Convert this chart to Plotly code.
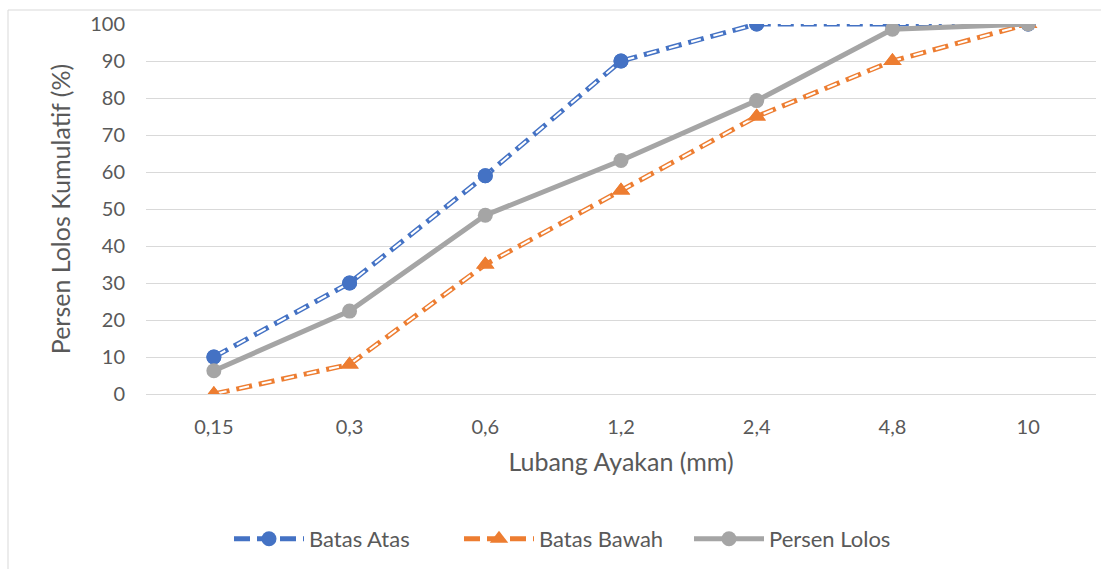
import plotly.graph_objects as go

# Sieve sizes (mm) and cumulative passing percentages
sieve_labels = ["0,15", "0,3", "0,6", "1,2", "2,4", "4,8", "10"]
batas_atas = [10, 30, 59, 90, 100, 100, 100]
batas_bawah = [0, 8, 35, 55, 75, 90, 100]
persen_lolos = [6.3, 22.4, 48.3, 63.1, 79.3, 98.6, 100]

TEXT = "#595959"
GRID = "#d9d9d9"
FONT = "Lato"

W, H = 1101, 569
ML, MR, MT, MB = 146, 5, 24, 175
plot_w = W - ML - MR
plot_h = H - MT - MB

fig = go.Figure()


def double_dashed(name, y, color, symbol, msize):
    # coloured dashed stroke with a thin white core, giving an outlined dash
    fig.add_trace(go.Scatter(
        x=sieve_labels, y=y, name=name, mode="lines+markers",
        line=dict(color=color, width=5, dash="16px,7px"),
        marker=dict(color=color, size=msize, symbol=symbol, line=dict(width=0)),
        legendgroup=name, showlegend=True,
    ))
    fig.add_trace(go.Scatter(
        x=sieve_labels, y=y, name=name, mode="lines+markers",
        line=dict(color="white", width=2.1, dash="0px,3px,10px,10px"),
        marker=dict(color=color, size=msize, symbol=symbol, line=dict(width=0)),
        legendgroup=name, showlegend=False, hoverinfo="skip",
    ))


double_dashed("Batas Atas", batas_atas, "#4472C4", "circle", 15)
double_dashed("Batas Bawah", batas_bawah, "#ED7D31", "triangle-up", 16)

fig.add_trace(go.Scatter(
    x=sieve_labels, y=persen_lolos, name="Persen Lolos", mode="lines+markers",
    line=dict(color="#A5A5A5", width=5),
    marker=dict(color="#A5A5A5", size=15, symbol="circle"),
))


def px_x(p):
    return (p - ML) / plot_w


def px_y(p):
    return (H - MB - p) / plot_h


# light outer frame of the chart area
fig.add_shape(type="rect", xref="paper", yref="paper",
              x0=px_x(8), x1=px_x(W + 20), y0=px_y(10), y1=px_y(H + 20),
              line=dict(color=GRID, width=1), fillcolor="rgba(0,0,0,0)",
              layer="below")

fig.update_layout(
    width=W, height=H,
    margin=dict(l=ML, r=MR, t=MT, b=MB, autoexpand=False),
    paper_bgcolor="white", plot_bgcolor="white",
    font=dict(family=FONT, size=20, color=TEXT),
    showlegend=True,
    legend=dict(
        orientation="h", xanchor="center", yanchor="middle",
        x=px_x(574), y=px_y(539),
        font=dict(family=FONT, size=22, color=TEXT),
        itemwidth=70, tracegroupgap=0,
        entrywidth=145, entrywidthmode="pixels",
        bgcolor="rgba(0,0,0,0)",
    ),
    xaxis=dict(
        type="category", range=[-0.5, len(sieve_labels) - 0.5],
        showgrid=False, zeroline=False, showline=False,
        ticks="", ticklabelstandoff=19,
        tickfont=dict(family=FONT, size=20, color=TEXT),
        title=dict(text="Lubang Ayakan (mm)", standoff=16,
                   font=dict(family=FONT, size=25, color=TEXT)),
        automargin=False,
    ),
    yaxis=dict(
        range=[0, 100], dtick=10,
        showgrid=True, gridcolor=GRID, gridwidth=1.3,
        zeroline=True, zerolinecolor=GRID, zerolinewidth=1.3,
        showline=False, ticks="", ticklabelstandoff=20,
        tickfont=dict(family=FONT, size=20, color=TEXT),
        title=dict(text="Persen Lolos Kumulatif (%)", standoff=12,
                   font=dict(family=FONT, size=25, color=TEXT)),
        automargin=False,
    ),
)

fig.write_html("out.html")
